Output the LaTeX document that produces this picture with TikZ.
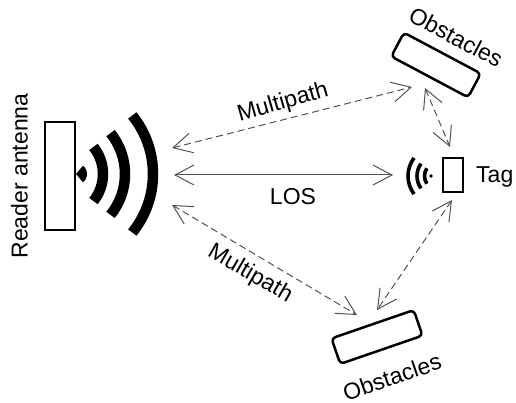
\documentclass[tikz,border=0pt]{standalone}
\usepackage{fontspec}
\setmainfont{Liberation Sans}
\usetikzlibrary{arrows.meta}
\begin{document}
\begin{tikzpicture}[x=1pt,y=-1pt,
  lbl/.style={font=\fontsize{23}{27}\selectfont, inner sep=0pt},
  box/.style={draw=black, line width=2.5pt, rounded corners=4pt, minimum width=87pt, minimum height=27pt, inner sep=0pt},
  conn/.style={draw=black!68, line width=1pt, {Straight Barb[length=19pt,width=20pt]}-{Straight Barb[length=19pt,width=20pt]}},
  dconn/.style={conn, dash pattern=on 7pt off 4pt},
  wave/.style={line width=10.5pt, line cap=butt},
  twave/.style={line width=3.6pt, line cap=butt}]
\useasboundingbox (0,0) rectangle (516,403);
% reader antenna
\node[draw=black, line width=2pt, minimum width=30pt, minimum height=108pt, inner sep=0pt] (reader) at (60,176) {};
\node[lbl, rotate=90] (readerlbl) at (19.5,176) {Reader antenna};
\fill (76,174) -- ++(-50:11) arc[start angle=-50, end angle=50, radius=11] -- cycle;
\draw[wave] (60,174) ++(-39:43) arc[start angle=-39, end angle=39, radius=43];
\draw[wave] (60,174) ++(-39:65) arc[start angle=-39, end angle=39, radius=65];
\draw[wave] (60,174) ++(-39:93) arc[start angle=-39, end angle=39, radius=93];
% tag
\node[draw=black, line width=2.5pt, minimum width=20pt, minimum height=34pt, inner sep=0pt] (tag) at (453,175) {};
\node[lbl, anchor=west] (taglbl) at (476,177) {Tag};
\fill (431,176) circle[radius=1.8];
\draw[twave] (438,176) ++(145:13.5) arc[start angle=145, end angle=215, radius=13.5];
\draw[twave] (438,176) ++(144:21) arc[start angle=144, end angle=216, radius=21];
\draw[twave] (438,176) ++(143:30) arc[start angle=143, end angle=217, radius=30];
% obstacles
\node[box, rotate=-28] (obsTop) at (436,65) {};
\node[lbl, rotate=-28] (obsToplbl) at (456,37) {Obstacles};
\node[box, rotate=19] (obsBot) at (377,337) {};
\node[lbl, rotate=19] (obsBotlbl) at (392,377) {Obstacles};
% connector ends
\coordinate (rLos) at (174,175);
\coordinate (tLos) at (393,175);
\coordinate (rUp) at (172,148);
\coordinate (oTopA) at (412,87);
\coordinate (rDown) at (172,205);
\coordinate (oBotA) at (357,315);
\coordinate (oTopB) at (425,88);
\coordinate (tUp) at (450,147);
\coordinate (tDown) at (452,200);
\coordinate (oBotB) at (377,310);
% connectors
\draw[conn] (rLos) -- (tLos);
\draw[dconn] (rUp) -- (oTopA);
\draw[dconn] (rDown) -- (oBotA);
\draw[dconn] (oTopB) -- (tUp);
\draw[dconn] (tDown) -- (oBotB);
% labels
\node[lbl] (los) at (293,197) {LOS};
\node[lbl, rotate=16] (mpTop) at (283,103) {Multipath};
\node[lbl, rotate=-30] (mpBot) at (250,274) {Multipath};
\end{tikzpicture}
\end{document}
